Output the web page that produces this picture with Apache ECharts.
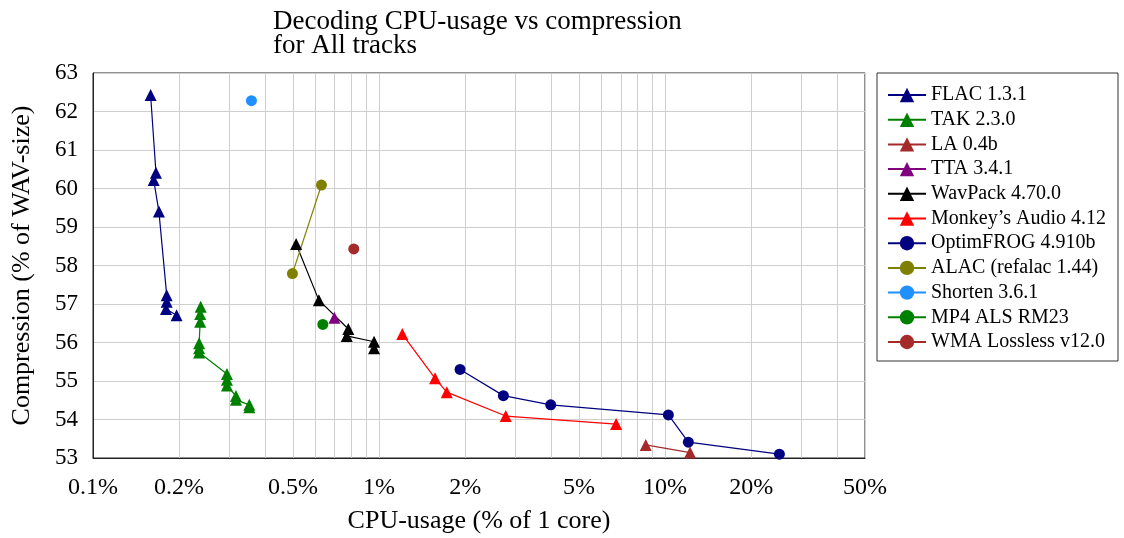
<!DOCTYPE html>
<html>
<head>
<meta charset="utf-8">
<title>Decoding CPU-usage vs compression</title>
<script src="https://cdn.jsdelivr.net/npm/echarts@6/dist/echarts.min.js"></script>
<style>
html, body { margin: 0; padding: 0; background: #fff; }
#chart { width: 1124px; height: 538px; }
</style>
</head>
<body>
<div id="chart"></div>
<script>
// [CPU-usage %, compression %] per encoder
var flac = [[0.159, 62.43], [0.166, 60.41], [0.163, 60.22], [0.170, 59.40],
            [0.181, 57.23], [0.181, 57.06], [0.180, 56.87], [0.196, 56.71]];
var tak = [[0.238, 56.93], [0.237, 56.74], [0.237, 56.54], [0.235, 55.98],
           [0.235, 55.85], [0.235, 55.74], [0.294, 55.18], [0.294, 55.03],
           [0.294, 54.88], [0.316, 54.61], [0.316, 54.51], [0.352, 54.38], [0.352, 54.32]];
var la = [[8.56, 53.34], [12.23, 53.14]];
var tta = [[0.698, 56.64]];
var wavpack = [[0.513, 58.56], [0.616, 57.10], [0.781, 56.35], [0.771, 56.17],
               [0.961, 56.02], [0.961, 55.85]];
var monkeys = [[1.206, 56.22], [1.570, 55.07], [1.725, 54.71], [2.773, 54.09], [6.742, 53.88]];
var optimfrog = [[1.920, 55.30], [2.721, 54.62], [3.983, 54.38], [10.27, 54.12],
                 [12.06, 53.41], [25.1, 53.10]];
var alac = [[0.498, 57.79], [0.629, 60.09]];
var shorten = [[0.358, 62.28]];
var mp4als = [[0.636, 56.47]];
var wma = [[0.816, 58.43]];

var xLabels = [0.1, 0.2, 0.5, 1, 2, 5, 10, 20, 50];
var xGridLines = [0.1, 0.2, 0.3, 0.4, 0.5, 0.6, 0.7, 0.8, 0.9,
                  1, 2, 3, 4, 5, 6, 7, 8, 9,
                  10, 20, 30, 40, 50];

var font = '"Liberation Serif", "Times New Roman", serif';

function mk(name, data, color, symbol) {
  return {
    name: name,
    type: 'line',
    data: data,
    symbol: symbol,
    symbolSize: symbol === 'triangle' ? 12 : 11,
    showAllSymbol: true,
    color: color,
    lineStyle: { color: color, width: 1.2 },
    itemStyle: { color: color },
    z: 3
  };
}

var series = [
  mk('FLAC 1.3.1', flac, '#000080', 'triangle'),
  mk('TAK 2.3.0', tak, '#008000', 'triangle'),
  mk('LA 0.4b', la, '#a52a2a', 'triangle'),
  mk('TTA 3.4.1', tta, '#800080', 'triangle'),
  mk('WavPack 4.70.0', wavpack, '#000000', 'triangle'),
  mk('Monkey\u2019s Audio 4.12', monkeys, '#ff0000', 'triangle'),
  mk('OptimFROG 4.910b', optimfrog, '#000080', 'circle'),
  mk('ALAC (refalac 1.44)', alac, '#808000', 'circle'),
  mk('Shorten 3.6.1', shorten, '#1e90ff', 'circle'),
  mk('MP4 ALS RM23', mp4als, '#008000', 'circle'),
  mk('WMA Lossless v12.0', wma, '#a52a2a', 'circle')
];

var chart = echarts.init(document.getElementById('chart'));
chart.setOption({
  animation: false,
  backgroundColor: '#fff',
  textStyle: { fontFamily: font },
  title: {
    text: 'Decoding CPU-usage vs compression\nfor All tracks',
    left: 268,
    top: 5,
    textStyle: { fontFamily: font, fontSize: 27, fontWeight: 'normal', color: '#000', lineHeight: 24 }
  },
  legend: {
    orient: 'vertical',
    left: 877,
    top: 73,
    padding: [12, 12, 9, 10],
    itemGap: 4.7,
    itemWidth: 38,
    itemHeight: 18,
    borderColor: '#333',
    borderWidth: 1,
    borderRadius: 0,
    textStyle: { fontFamily: font, fontSize: 20, color: '#000', lineHeight: 20 }
  },
  grid: {
    left: 93, right: 259, top: 73, bottom: 80,
    show: true, borderColor: '#222', borderWidth: 1,
    outerBoundsMode: 'none'
  },
  xAxis: {
    type: 'log',
    logBase: 10,
    min: 0.1,
    max: 50,
    name: 'CPU-usage (% of 1 core)',
    nameLocation: 'middle',
    nameGap: 50,
    nameTextStyle: { fontFamily: font, fontSize: 26, color: '#000' },
    axisLine: { show: true, lineStyle: { color: '#222', width: 1 } },
    axisTick: { show: false, customValues: xGridLines },
    axisLabel: {
      customValues: xLabels,
      margin: 18,
      fontFamily: font,
      fontSize: 24,
      color: '#000',
      formatter: function (v) { return (+v.toPrecision(3)) + '%'; }
    },
    splitLine: { show: true, lineStyle: { color: '#cfcfcf', width: 1 } },
    minorTick: { show: false },
    minorSplitLine: { show: false }
  },
  yAxis: {
    type: 'value',
    min: 53,
    max: 63,
    interval: 1,
    name: 'Compression (% of WAV-size)',
    nameLocation: 'middle',
    nameGap: 58,
    nameTextStyle: { fontFamily: font, fontSize: 26, color: '#000' },
    axisLine: { show: true, lineStyle: { color: '#222', width: 1 } },
    axisTick: { show: false },
    axisLabel: { margin: 15, fontFamily: font, fontSize: 23, color: '#000' },
    splitLine: { show: true, lineStyle: { color: '#cfcfcf', width: 1 } }
  },
  series: series
});
</script>
</body>
</html>
